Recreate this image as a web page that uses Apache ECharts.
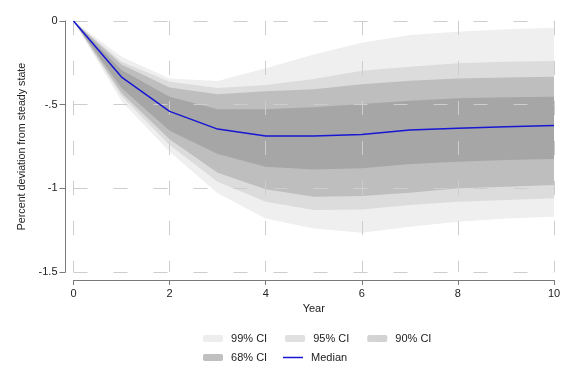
<!DOCTYPE html>
<html><head><meta charset="utf-8">
<script src="https://cdn.jsdelivr.net/npm/echarts@6/dist/echarts.min.js"></script>
<style>html,body{margin:0;padding:0;background:#fff}#c{width:576px;height:384px}</style>
</head><body><div id="c"></div>
<script>
const years  = [0, 1, 2, 3, 4, 5, 6, 7, 8, 9, 10];
const median = [0, -0.335, -0.54, -0.646, -0.687, -0.687, -0.678, -0.652, -0.641, -0.632, -0.624];
const ci99Lo = [0, -0.48, -0.781, -1.03, -1.18, -1.24, -1.265, -1.23, -1.20, -1.18, -1.17];
const ci99Hi = [0, -0.213, -0.343, -0.359, -0.283, -0.20, -0.13, -0.084, -0.064, -0.05, -0.04];
const ci95Lo = [0, -0.45, -0.741, -0.96, -1.08, -1.13, -1.126, -1.10, -1.08, -1.07, -1.06];
const ci95Hi = [0, -0.243, -0.363, -0.40, -0.383, -0.347, -0.297, -0.273, -0.253, -0.243, -0.239];
const ci90Lo = [0, -0.43, -0.707, -0.907, -1.006, -1.05, -1.046, -1.026, -1.0, -0.99, -0.98];
const ci90Hi = [0, -0.26, -0.397, -0.438, -0.42, -0.408, -0.378, -0.357, -0.343, -0.337, -0.333];
const ci68Lo = [0, -0.40, -0.656, -0.795, -0.871, -0.887, -0.88, -0.855, -0.841, -0.83, -0.825];
const ci68Hi = [0, -0.293, -0.452, -0.528, -0.528, -0.516, -0.496, -0.476, -0.462, -0.456, -0.452];
const xTicks = [0, 2, 4, 6, 8, 10];
const yTicks = [0, -0.5, -1, -1.5];

const FONT = 'Liberation Sans, Arial, sans-serif';

function band(name, lo, hi, fill, legendColor) {
  return {
    name: name, type: 'custom', z: 1,
    itemStyle: { color: legendColor },
    data: years.map((x, i) => [x, lo[i], hi[i]]),
    encode: { x: 0, y: [1, 2] },
    renderItem: function (params, api) {
      if (params.dataIndex !== 0) return null;
      const pts = [];
      for (let i = 0; i < years.length; i++) pts.push(api.coord([years[i], hi[i]]));
      for (let i = years.length - 1; i >= 0; i--) pts.push(api.coord([years[i], lo[i]]));
      return { type: 'polygon', shape: { points: pts }, style: { fill: fill } };
    }
  };
}

const chart = echarts.init(document.getElementById('c'), null, { renderer: 'canvas' });
const gridStyle = { show: true, lineStyle: { color: '#cdcdcd', width: 1, type: [14, 26] } };
const legendText = { color: '#222', fontSize: 11, fontFamily: FONT };
chart.setOption({
  animation: false,
  textStyle: { fontFamily: FONT },
  grid: { left: 73.5, right: 22, top: 21, bottom: 112 },
  xAxis: {
    type: 'value', min: xTicks[0], max: xTicks[xTicks.length - 1], interval: 2,
    offset: 8, z: 3,
    name: 'Year', nameLocation: 'middle', nameGap: 23,
    nameTextStyle: { color: '#222', fontSize: 11, fontFamily: FONT },
    axisLine: { show: true, onZero: false, lineStyle: { color: '#7a7a7a', width: 1 } },
    axisTick: { show: true, length: 5, lineStyle: { color: '#7a7a7a' } },
    axisLabel: { color: '#222', fontSize: 11, margin: 8, fontFamily: FONT },
    splitLine: gridStyle
  },
  yAxis: {
    type: 'value', min: yTicks[yTicks.length - 1], max: yTicks[0], interval: 0.5,
    offset: 8, z: 3,
    name: 'Percent deviation from steady state', nameLocation: 'middle', nameGap: 35,
    nameRotate: 90,
    nameTextStyle: { color: '#222', fontSize: 10.7, fontFamily: FONT },
    axisLine: { show: true, onZero: false, lineStyle: { color: '#7a7a7a', width: 1 } },
    axisTick: { show: true, length: 6, lineStyle: { color: '#7a7a7a' } },
    axisLabel: { color: '#222', fontSize: 11, margin: 8, fontFamily: FONT,
      formatter: v => String(v).replace('0.', '.') },
    splitLine: gridStyle
  },
  legend: [
    { data: ['99% CI', '95% CI', '90% CI'], left: 203, top: 333, padding: 0,
      itemWidth: 20, itemHeight: 7, itemGap: 18, formatter: n => ' ' + n, textStyle: legendText },
    { data: ['68% CI'], left: 203, top: 352, padding: 0,
      itemWidth: 20, itemHeight: 7, itemGap: 18, formatter: n => ' ' + n, textStyle: legendText },
    { data: ['Median'], left: 283, top: 352, padding: 0, icon: 'rect',
      itemWidth: 20, itemHeight: 1.5, formatter: n => ' ' + n, textStyle: legendText }
  ],
  series: [
    band('99% CI', ci99Lo, ci99Hi, '#efefef', '#ededed'),
    band('95% CI', ci95Lo, ci95Hi, '#dcdcdc', '#e0e0e0'),
    band('90% CI', ci90Lo, ci90Hi, '#bebebe', '#d3d3d3'),
    band('68% CI', ci68Lo, ci68Hi, '#a6a6a6', '#c0c0c0'),
    { name: 'Median', type: 'line', z: 5, symbol: 'none', showSymbol: false,
      data: years.map((x, i) => [x, median[i]]),
      lineStyle: { color: '#1616d4', width: 1.5 }, itemStyle: { color: '#1616d4' } }
  ]
});
</script></body></html>
